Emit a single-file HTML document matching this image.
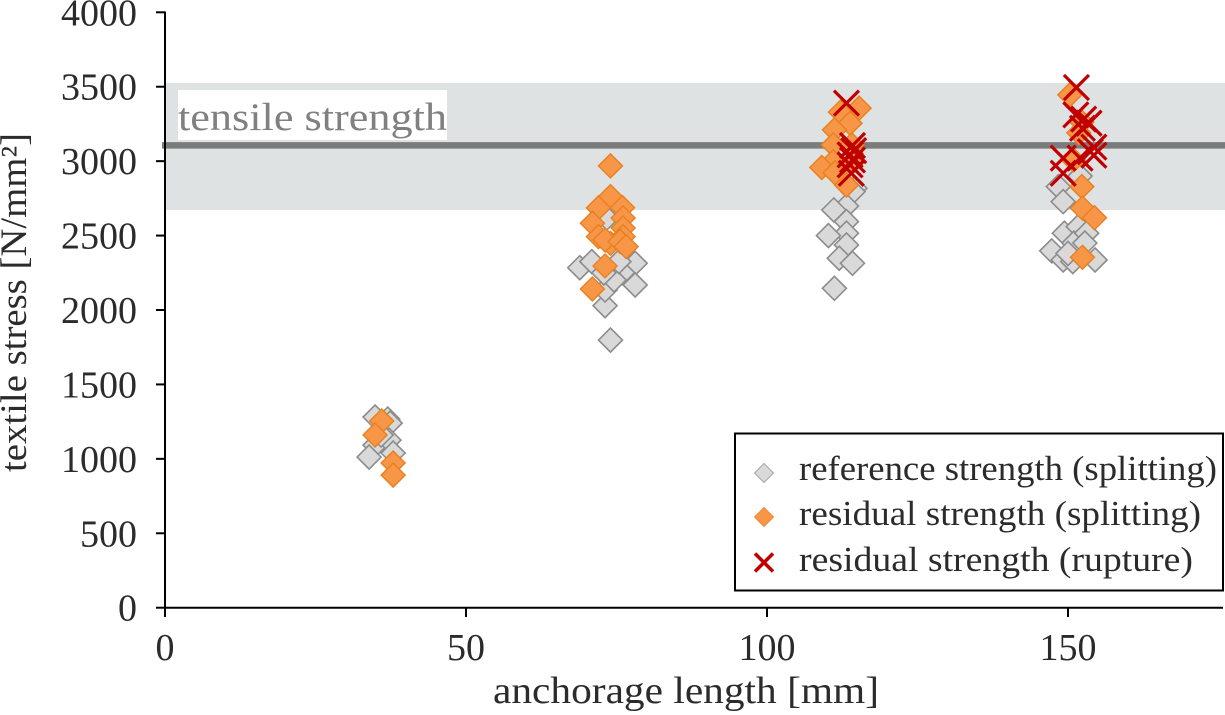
<!DOCTYPE html>
<html lang="en">
<head>
<meta charset="utf-8">
<title>Textile stress vs anchorage length</title>
<style>
html,body{margin:0;padding:0;background:#fff;width:1225px;height:715px;overflow:hidden}
svg{display:block}
text{font-family:"Liberation Serif",serif;fill:#2b2b2b}
</style>
</head>
<body>
<svg id="chart" width="1225" height="715" viewBox="0 0 1225 715" xmlns="http://www.w3.org/2000/svg">
  <g id="band-layer"></g>
  <g id="axis-layer"></g>
  <g id="gray-layer"></g>
  <g id="orange-layer"></g>
  <g id="red-layer"></g>
  <text x="493" y="703" font-size="38" textLength="386" lengthAdjust="spacingAndGlyphs">anchorage length [mm]</text>
  <text transform="translate(26,472) rotate(-90)" font-size="37" textLength="339" lengthAdjust="spacingAndGlyphs">textile stress [N/mm²]</text>
  <g>
    <rect x="735" y="433.5" width="488" height="157" fill="#fff" stroke="#000" stroke-width="2"></rect>
    <polygon points="764,463.5 773.5,473 764,482.5 754.5,473" fill="#d9d9d9" stroke="#a6a6a6" stroke-width="1"></polygon>
    <polygon points="764,507.5 773.5,517 764,526.5 754.5,517" fill="#f79646" stroke="#ee8a33" stroke-width="1"></polygon>
    <path d="M755,553.5L773,571.5M773,553.5L755,571.5" stroke="#c00000" stroke-width="3.5" fill="none"></path>
    <text x="799" y="480" font-size="35" textLength="418" lengthAdjust="spacingAndGlyphs">reference strength (splitting)</text>
    <text x="799" y="525" font-size="35" textLength="402" lengthAdjust="spacingAndGlyphs">residual strength (splitting)</text>
    <text x="799" y="571" font-size="35" textLength="394" lengthAdjust="spacingAndGlyphs">residual strength (rupture)</text>
  </g>
</svg>
<script>
const xTicks = [0, 50, 100, 150];
const yTicks = [0, 500, 1000, 1500, 2000, 2500, 3000, 3500, 4000];
const bandRange = [2672, 3526];
const tensileStrength = [3106];

const referenceLength = [34.9,37.0,37.4,34.9,37.2,33.9,37.9,35.9,
  73.1,74.0,68.9,70.9,78.1,78.1,76.0,73.1,74.6,72.9,75.4,73.4,
  114.6,114.3,113.2,111.1,113.2,113.2,110.2,113.2,112.0,114.2,111.2,
  149.4,151.7,147.3,149.2,154.5,151.0,148.4,149.2,153.1,152.8,150.8,150.0,152.0];
const referenceStress = [1281,1267,1240,1092,1126,1012,1039,1160,
  2029,1798,2284,2325,2314,2168,2251,2134,2202,2249,2325,2618,
  2818,2795,2699,2672,2594,2516,2500,2437,2348,2314,2146,
  2516,2560,2397,2336,2336,2450,2829,2728,2516,2450,2325,2380,2900];

const residualLength = [36.0,34.9,37.9,37.9,
  74.0,74.0,72.0,76.0,71.0,76.1,76.1,72.0,76.1,74.0,73.1,75.6,76.6,73.1,71.0,
  115.3,112.2,113.8,111.2,111.0,114.1,111.0,109.1,111.3,113.2,114.1,
  150.3,152.3,151.8,150.9,152.3,152.4,154.4,152.4];
const residualStress = [1254,1160,972,891,
  2968,2762,2686,2688,2583,2618,2551,2493,2493,2448,2470,2460,2426,2296,2141,
  3356,3329,3255,3210,3109,3109,2997,2957,2921,2840,2990,
  3445,3262,3190,3008,2829,2684,2620,2354];

const ruptureLength = [113.2,114.2,114.4,113.8,114.2,113.8,114.0,
  151.4,151.3,152.6,153.5,152.4,154.3,153.7,154.3,152.0,149.2,149.2];
const ruptureStress = [3390,3105,3071,3042,3008,2975,2919,
  3495,3311,3282,3255,3221,3094,3064,3040,3020,3020,2919];

const SVG_NS = 'http://www.w3.org/2000/svg';
function xScale(v) { return 165 + v * 6.02; }
function yScale(v) { return 607.7 - v * 0.14885; }
function make(tag, attrs, parent) {
  const el = document.createElementNS(SVG_NS, tag);
  for (const k in attrs) el.setAttribute(k, attrs[k]);
  parent.appendChild(el);
  return el;
}

const bandLayer = document.getElementById('band-layer');
const band = make('rect', {x: 166, y: yScale(bandRange[1]), width: 1059, height: yScale(bandRange[0]) - yScale(bandRange[1]), fill: '#dfe2e3'}, bandLayer);


const labelBg = make('rect', {x: 178, y: 90, width: 269, height: 50, fill: '#fff'}, bandLayer);


const tensileLine = make('line', {x1: 162, x2: 1225, y1: yScale(tensileStrength[0]), y2: yScale(tensileStrength[0]), stroke: '#7a7c7b', 'stroke-width': 6.5}, bandLayer);


const tensileLabel = make('text', {x: 178, y: 130, 'font-size': 39, textLength: 269, lengthAdjust: 'spacingAndGlyphs', style: 'fill:#808080'}, bandLayer);
tensileLabel.textContent = 'tensile strength';



const axisLayer = document.getElementById('axis-layer');
const xAxis = make('line', {x1: 164, x2: 1223, y1: 607.7, y2: 607.7, stroke: '#000', 'stroke-width': 2}, axisLayer);


const yAxis = make('line', {x1: 165, x2: 165, y1: 11.5, y2: 608.7, stroke: '#000', 'stroke-width': 2}, axisLayer);



xTicks.forEach(function (t) {
  const tick = make('line', {x1: xScale(t), x2: xScale(t), y1: 607.7, y2: 617, stroke: '#000', 'stroke-width': 2}, axisLayer);
  
  
  const label = make('text', {x: xScale(t), y: 660, 'font-size': 38, 'text-anchor': 'middle'}, axisLayer);
  label.textContent = t;
  
  
});
yTicks.forEach(function (t) {
  const tick = make('line', {x1: 156, x2: 165, y1: yScale(t), y2: yScale(t), stroke: '#000', 'stroke-width': 2}, axisLayer);
  
  
  const label = make('text', {x: 137, y: yScale(t) + 13, 'font-size': 38, 'text-anchor': 'end'}, axisLayer);
  label.textContent = t;
  
  
});

function diamondPoints(cx, cy, r) {
  return cx + ',' + (cy - r) + ' ' + (cx + r) + ',' + cy + ' ' + cx + ',' + (cy + r) + ' ' + (cx - r) + ',' + cy;
}

const grayLayer = document.getElementById('gray-layer');
referenceLength.forEach(function (v, i) {
  const p = make('polygon', {points: diamondPoints(xScale(v), yScale(referenceStress[i]), 12), fill: '#d9d9d9', stroke: '#8c8c8c', 'stroke-width': 1.6}, grayLayer);
  
  
});

const orangeLayer = document.getElementById('orange-layer');
residualLength.forEach(function (v, i) {
  const p = make('polygon', {points: diamondPoints(xScale(v), yScale(residualStress[i]), 12), fill: '#f79646', stroke: '#e8801f', 'stroke-width': 1.4}, orangeLayer);
  
  
});

const redLayer = document.getElementById('red-layer');
ruptureLength.forEach(function (v, i) {
  const cx = xScale(v), cy = yScale(ruptureStress[i]), r = 12.5;
  const p = make('path', {d: 'M' + (cx - r) + ',' + (cy - r) + 'L' + (cx + r) + ',' + (cy + r) + 'M' + (cx + r) + ',' + (cy - r) + 'L' + (cx - r) + ',' + (cy + r), stroke: '#c00000', 'stroke-width': 3.2, fill: 'none'}, redLayer);
  
  
});
</script>
</body>
</html>
